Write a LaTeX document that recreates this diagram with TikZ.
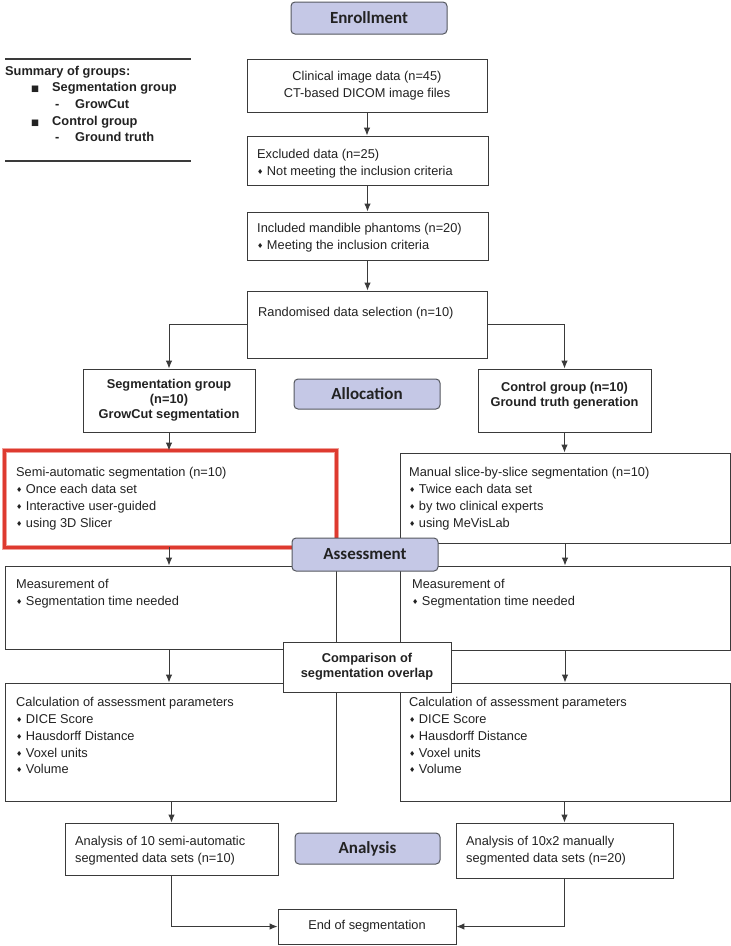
\documentclass[tikz,border=0pt]{standalone}
\usepackage{fontspec}
\setmainfont{Liberation Sans}
\newfontfamily\hdrfont{Carlito}
\newfontfamily\symfont{DejaVu Sans}
\usetikzlibrary{arrows.meta}
\definecolor{hdrfill}{HTML}{C5C8E6}
\definecolor{hdrdraw}{HTML}{55585F}
\definecolor{boxdraw}{HTML}{3A3A3A}
\definecolor{txtc}{HTML}{222222}
\definecolor{redc}{HTML}{DE3A2F}
\definecolor{redhalo}{HTML}{F0A09A}
\newcommand\dia{{\symfont\fontsize{7}{6}\selectfont\raisebox{0.8pt}{♦}}\hspace{3.5pt}}
\newcommand\sqb{{\symfont\fontsize{8.5}{8}\selectfont ■}}
\begin{document}
\begin{tikzpicture}[x=1pt,y=-1pt,
  box/.style={draw=boxdraw, line width=0.9pt, fill=white, inner sep=0pt, text=txtc,
    font=\fontsize{12.8}{16.7}\selectfont, align=center},
  bbox/.style={box, font=\bfseries\fontsize{12.8}{15}\selectfont},
  hdr/.style={draw=hdrdraw, fill=hdrfill, rounded corners=4pt, line width=1pt, inner sep=0pt,
    text=txtc, font=\hdrfont\bfseries\fontsize{17}{20}\selectfont},
  txt/.style={anchor=north west, inner sep=0pt, align=left, text=txtc,
    font=\fontsize{12.8}{16.7}\selectfont},
  btxt/.style={inner sep=0pt, text=txtc, font=\bfseries\fontsize{12.8}{16.5}\selectfont},
  arr/.style={draw=boxdraw, line width=1pt, -{Latex[length=8pt,width=6.5pt]}},
  sumline/.style={draw=boxdraw, line width=1.2pt}
]
\useasboundingbox (0,0) rectangle (731,946);

% summary
\coordinate (sa) at (5,59);
\coordinate (sb) at (191,59);
\coordinate (sc) at (5,161);
\coordinate (sd) at (191,161);
\draw[sumline] (sa) -- (sb);
\draw[sumline] (sc) -- (sd);
\node[btxt, anchor=base west] (s1) at (5,75.5) {Summary of groups:};
\node[btxt, anchor=base west] (s2) at (31,91.5) {\sqb};
\node[btxt, anchor=base west] (s3) at (52,91.5) {Segmentation group};
\node[btxt, anchor=base west] (s4) at (55,108.5) {-};
\node[btxt, anchor=base west] (s5) at (75,108.5) {GrowCut};
\node[btxt, anchor=base west] (s6) at (31,125.5) {\sqb};
\node[btxt, anchor=base west] (s7) at (52,125.5) {Control group};
\node[btxt, anchor=base west] (s8) at (55,141.5) {-};
\node[btxt, anchor=base west] (s9) at (75,141.5) {Ground truth};

% boxes
\node[box, minimum width=240pt, minimum height=53pt] (b1) at (367,85.5)
  {Clinical image data (n=45)\\CT-based DICOM image files};
\node[box, minimum width=241pt, minimum height=49pt] (b2) at (367.5,160.5) {};
\node[box, minimum width=241pt, minimum height=48pt] (b3) at (367.5,236) {};
\node[box, minimum width=240pt, minimum height=67pt] (b4) at (367,324.5) {};
\node[bbox, minimum width=172pt, minimum height=63pt] (b5) at (169,400.5)
  {Segmentation group\\(n=10)\\GrowCut segmentation};
\node[box, minimum width=173pt, minimum height=63pt] (b6) at (564.5,400.5) {};
\node[box, minimum width=331pt, minimum height=96pt] (semi) at (170.5,499) {};
\node[box, minimum width=330pt, minimum height=90pt] (manual) at (565,498) {};
\node[box, minimum width=331pt, minimum height=83pt] (measL) at (170.5,607.5) {};
\node[box, minimum width=330pt, minimum height=84pt] (measR) at (565,608) {};
\node[box, minimum width=331pt, minimum height=118pt] (calcL) at (170.5,742) {};
\node[box, minimum width=330pt, minimum height=118pt] (calcR) at (565,742) {};
\node[box, minimum width=213pt, minimum height=52pt] (anL) at (171.5,849) {};
\node[box, minimum width=217pt, minimum height=55pt] (anR) at (564.5,850.5) {};
\node[box, minimum width=178pt, minimum height=35pt] (end) at (367,926.5) {End of segmentation};

% red highlight of the semi-automatic box
\draw[redhalo, line width=4.8pt] (semi.north west) rectangle (semi.south east);
\draw[redc, line width=2.6pt] (semi.north west) rectangle (semi.south east);

% texts inside boxes
\node[txt] (t2) at (257,149.5) {Excluded data (n=25)\\\dia Not meeting the inclusion criteria};
\node[txt] (t3) at (257,223) {Included mandible phantoms (n=20)\\\dia Meeting the inclusion criteria};
\node[txt] (t4) at (258,307.5) {Randomised data selection (n=10)};
\node[btxt, anchor=north, align=center, font=\bfseries\fontsize{12.8}{15}\selectfont] (t6) at (564.5,382) {Control group (n=10)\\Ground truth generation};
\node[txt] (tsemi) at (16,467.5) {Semi-automatic segmentation (n=10)\\\dia Once each data set\\\dia Interactive user-guided\\\dia using 3D Slicer};
\node[txt] (tman) at (409,467.5) {Manual slice-by-slice segmentation (n=10)\\\dia Twice each data set\\\dia by two clinical experts\\\dia using MeVisLab};
\node[txt] (tmL) at (16,579.5) {Measurement of\\\dia Segmentation time needed};
\node[txt] (tmR) at (412,579.5) {Measurement of\\\dia Segmentation time needed};
\node[txt] (tcL) at (16,697.5) {Calculation of assessment parameters\\\dia DICE Score\\\dia Hausdorff Distance\\\dia Voxel units\\\dia Volume};
\node[txt] (tcR) at (409,697.5) {Calculation of assessment parameters\\\dia DICE Score\\\dia Hausdorff Distance\\\dia Voxel units\\\dia Volume};
\node[txt] (taL) at (75,836.5) {Analysis of 10 semi-automatic\\segmented data sets (n=10)};
\node[txt] (taR) at (466,836.5) {Analysis of 10x2 manually\\segmented data sets (n=20)};

% headers and comparison on top
\node[hdr, minimum width=156pt, minimum height=32pt] (enr) at (369,18) {Enrollment};
\node[hdr, minimum width=146pt, minimum height=30pt] (alloc) at (367,394) {Allocation};
\node[hdr, minimum width=146pt, minimum height=33pt] (assess) at (365,554.5) {Assessment};
\node[hdr, minimum width=145pt, minimum height=31pt] (analysis) at (367.5,848.5) {Analysis};
\node[bbox, minimum width=168pt, minimum height=50pt] (comp) at (367,667)
  {Comparison of\\segmentation overlap};

% connectors
\draw[arr] (b1.south) -- (b1.south |- b2.north);
\draw[arr] (b2.south) -- (b3.north);
\draw[arr] (b3.south) -- (b3.south |- b4.north);
\draw[arr] (b4.west) -| (b5.north);
\draw[arr] (b4.east) -| (b6.north);
\draw[arr] (b5.south) -- (b5.south |- semi.north);
\draw[arr] (b6.south) -- (b6.south |- manual.north);
\draw[arr] (b5.south |- semi.south) -- (b5.south |- measL.north);
\draw[arr] (manual.south) -- (measR.north);
\draw[arr] (b5.south |- measL.south) -- (b5.south |- calcL.north);
\draw[arr] (measR.south) -- (calcR.north);
\draw[arr] (anL.north |- calcL.south) -- (anL.north);
\draw[arr] (b6.south |- calcR.south) -- (b6.south |- anR.north);
\draw[arr] (anL.south) |- (end.west);
\draw[arr] (anR.south) |- (end.east);
\end{tikzpicture}
\end{document}
